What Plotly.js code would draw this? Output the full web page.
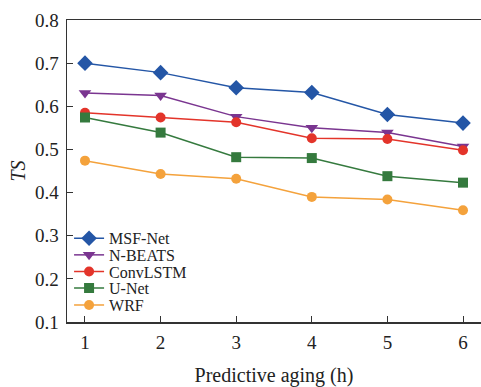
<!DOCTYPE html>
<html><head><meta charset="utf-8">
<script src="https://cdn.plot.ly/plotly-3.0.1.min.js"></script>
<style>body{margin:0;background:#fff}#c{width:481px;height:387px}</style>
</head><body><div id="c"></div>
<script>
const hours = [1, 2, 3, 4, 5, 6];
const seriesNames = ["MSF-Net", "N-BEATS", "ConvLSTM", "U-Net", "WRF"];
const msfNet = [0.700, 0.678, 0.643, 0.632, 0.581, 0.561];
const nBeats = [0.631, 0.625, 0.576, 0.550, 0.539, 0.507];
const convLstm = [0.585, 0.574, 0.563, 0.526, 0.524, 0.498];
const uNet = [0.574, 0.539, 0.482, 0.480, 0.438, 0.423];
const wrf = [0.474, 0.443, 0.432, 0.390, 0.384, 0.359];
const yTicks = [0.1, 0.2, 0.3, 0.4, 0.5, 0.6, 0.7, 0.8];

const colors = ["#2456a6", "#7a3590", "#e3342a", "#357a3e", "#f4a23c"];
const symbols = ["diamond", "triangle-down", "circle", "square", "circle"];
const sizes = [12, 11, 10, 10, 10];
const vals = [msfNet, nBeats, convLstm, uNet, wrf];
const legendY = [0.277, 0.222, 0.167, 0.112, 0.056];

const traces = vals.map((v, i) => ({
  x: hours, y: v, name: seriesNames[i], type: "scatter", mode: "lines+markers",
  legend: i === 0 ? "legend" : "legend" + (i + 1),
  line: {color: colors[i], width: 1.5},
  marker: {color: colors[i], symbol: symbols[i], size: sizes[i]}
}));

const fam = "Liberation Serif";
const f = (s) => ({family: fam, size: s, color: "#222"});
const layout = {
  width: 481, height: 387,
  margin: {l: 67, r: 0, t: 20, b: 65},
  paper_bgcolor: "#fff", plot_bgcolor: "#fff",
  font: f(19),
  showlegend: true,
  xaxis: {
    range: [0.762, 6.238], tickvals: hours, ticks: "inside", ticklen: 6, tickcolor: "#333",
    showline: true, linecolor: "#333", linewidth: 1.5, mirror: true, showgrid: false, zeroline: false,
    tickfont: f(19), ticklabelstandoff: 3,
    title: {text: "Predictive aging (h)", font: f(20), standoff: 17}
  },
  yaxis: {
    range: [0.1, 0.8], tickvals: yTicks, ticktext: yTicks.map(t => t.toFixed(1)),
    ticks: "inside", ticklen: 6, tickcolor: "#333",
    showline: true, linecolor: "#333", linewidth: 1.5, showgrid: false, zeroline: false,
    tickfont: f(19), ticklabelstandoff: 3,
    title: {text: "<i>TS</i>", font: f(20), standoff: 4}
  }
};
legendY.forEach((y, i) => {
  layout[i === 0 ? "legend" : "legend" + (i + 1)] = {
    x: 0.005, y: y, xanchor: "left", yanchor: "middle", bgcolor: "rgba(0,0,0,0)",
    font: f(16), itemwidth: 30
  };
});
Plotly.newPlot("c", traces, layout, {displayModeBar: false, staticPlot: true});
</script></body></html>
